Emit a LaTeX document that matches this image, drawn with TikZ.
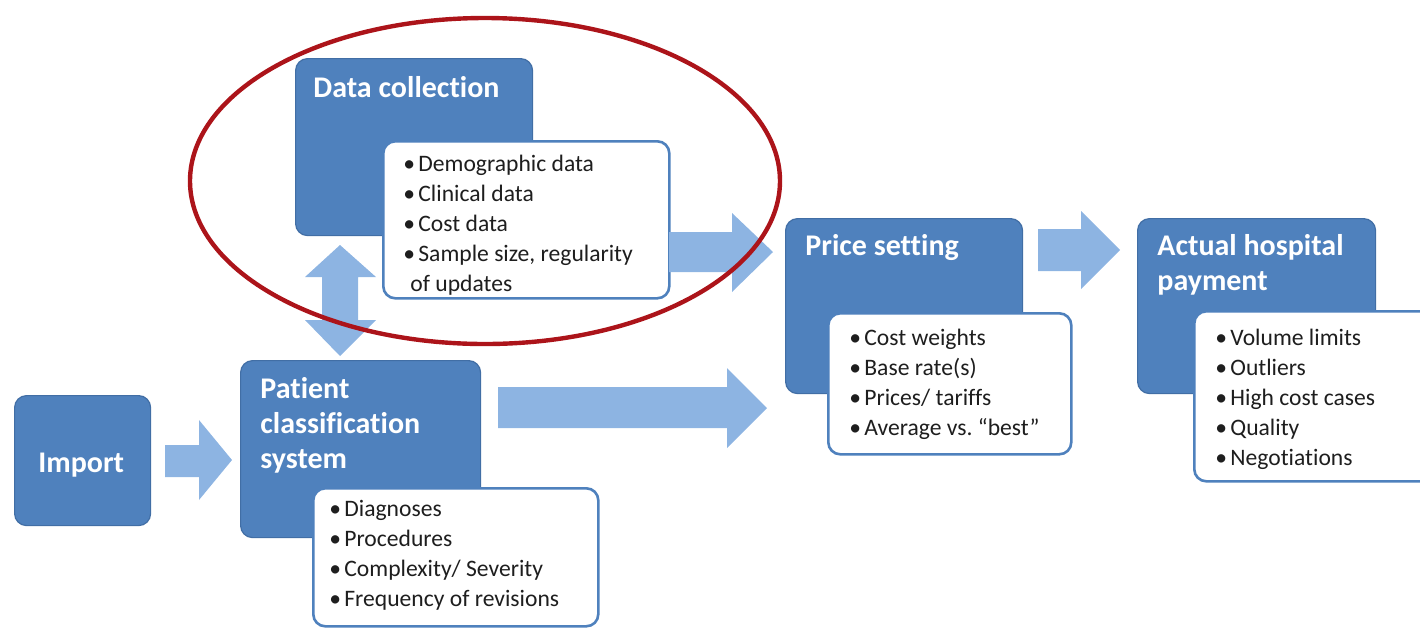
\documentclass[tikz,border=0pt]{standalone}
\usepackage{fontspec}
\setmainfont{Carlito}[Ligatures=NoCommon]
\frenchspacing
\definecolor{boxblue}{RGB}{79,129,189}
\definecolor{boxedge}{RGB}{65,110,165}
\definecolor{arrblue}{RGB}{141,180,226}
\definecolor{ringred}{RGB}{172,20,26}
\definecolor{txt}{RGB}{30,30,30}
\newcommand{\natsp}{\spaceskip=0pt\xspaceskip=0pt\relax}
\tikzset{
  bluebox/.style={draw=boxedge, line width=0.6pt, fill=boxblue, rounded corners=6pt, anchor=north west, inner sep=0pt},
  listbox/.style={draw=boxblue, line width=1.3pt, fill=white, rounded corners=6pt, anchor=north west, inner sep=0pt},
  title/.style={anchor=base west, inner sep=0pt, text=white, font=\fontsize{15}{17.5}\selectfont\bfseries, text width=110pt, align=flush left, execute at begin node=\natsp},
  items/.style={anchor=base west, inner sep=0pt, text=txt, font=\fontsize{11.8}{15}\selectfont, text width=140pt, align=flush left, execute at begin node=\natsp},
  blockarrow/.style={fill=arrblue, draw=none},
}
\newcommand{\itm}[1]{\makebox[7.5pt][l]{•}#1}
\begin{document}
\begin{tikzpicture}[x=0.5pt,y=-0.5pt]
\useasboundingbox (0,0) rectangle (1420,628);
% boxes
\node[bluebox, minimum width=68pt, minimum height=65pt] (imp) at (14,395) {};
\node[title] (impt) at (38,472) {Import};

\node[bluebox, minimum width=118.5pt, minimum height=88.5pt] (dc) at (295,58) {};
\node[title] (dct) at (313,97) {Data collection};

\node[bluebox, minimum width=120pt, minimum height=88.5pt] (pcs) at (240,360) {};
\node[title] (pcst) at (260,398) {Patient\\classification\\system};

\node[bluebox, minimum width=118.5pt, minimum height=87.5pt] (ps) at (785,218) {};
\node[title] (pst) at (805,255) {Price setting};

\node[bluebox, minimum width=119pt, minimum height=87.5pt] (ahp) at (1137,218) {};
\node[title] (ahpt) at (1157,255) {Actual hospital\\payment};

% list boxes
\node[listbox, minimum width=143pt, minimum height=78.5pt] (dcl) at (382,140) {};
\node[items] (dcli) at (403,171) {\itm{Demographic data}\\\itm{Clinical data}\\\itm{Cost data}\\\itm{Sample size, regularity}\\\hspace*{3.5pt}of updates};

\node[listbox, minimum width=142.5pt, minimum height=69pt] (pcl) at (312,487) {};
\node[items] (pcli) at (329,516) {\itm{Diagnoses}\\\itm{Procedures}\\\itm{Complexity/ Severity}\\\itm{Frequency of revisions}};

\node[listbox, minimum width=121.5pt, minimum height=70.5pt] (psl) at (827,312) {};
\node[items] (psli) at (849,345) {\itm{Cost weights}\\\itm{Base rate(s)}\\\itm{Prices/ tariffs}\\\itm{Average vs. “best”}};

\node[listbox, minimum width=120pt, minimum height=85pt] (ahl) at (1193,310) {};
\node[items] (ahli) at (1215,345) {\itm{Volume limits}\\\itm{Outliers}\\\itm{High cost cases}\\\itm{Quality}\\\itm{Negotiations}};

% block arrows
\fill[blockarrow] (165,445) -- (199,445) -- (199,420) -- (232,460) -- (199,500) -- (199,477) -- (165,477) -- cycle;
\fill[blockarrow] (669,232) -- (732,232) -- (732,213) -- (773,252) -- (732,292) -- (732,272) -- (669,272) -- cycle;
\fill[blockarrow] (498,387) -- (727,387) -- (727,368) -- (767,408) -- (727,448) -- (727,428) -- (498,428) -- cycle;
\fill[blockarrow] (1038,229) -- (1081,229) -- (1081,211) -- (1120,250) -- (1081,289) -- (1081,271) -- (1038,271) -- cycle;
\fill[blockarrow] (340,245) -- (376,277) -- (358,277) -- (358,320) -- (376,320) -- (340,356) -- (305,320) -- (322,320) -- (322,277) -- (305,277) -- cycle;

% red ring
\draw[ringred, line width=2.2pt] (485,181) ellipse [x radius=295, y radius=163];
\end{tikzpicture}
\end{document}
